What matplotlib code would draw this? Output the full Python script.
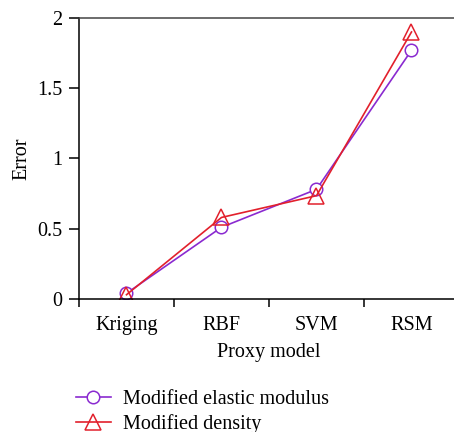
import numpy as np
import matplotlib.pyplot as plt

models = ["Kriging", "RBF", "SVM", "RSM"]
elastic_modulus = [0.04, 0.51, 0.78, 1.77]
density = [0.03, 0.58, 0.735, 1.90]

plt.rcParams["font.family"] = ["Liberation Serif", "DejaVu Serif"]
plt.rcParams["font.size"] = 14.5

purple = "#8a2ad0"
red = "#e2202c"

fig = plt.figure(figsize=(4.54, 4.32), dpi=100)
ax = fig.add_axes([0.174, 0.308, 0.837, 0.6505])

x = np.arange(len(models)) + 0.5
ax.plot(x, elastic_modulus, color=purple, lw=1.2, marker="o", ms=9,
        mfc="white", mec=purple, mew=1.1, label="Modified elastic modulus")
ax.plot(x, density, color=red, lw=1.2, marker="^", ms=11,
        mfc="none", mec=red, mew=1.1, label="Modified density")

ax.set_xlim(0, 4)
ax.set_ylim(0, 2)
ax.set_yticks([0, 0.5, 1, 1.5, 2])
ax.set_yticklabels(["0", "0.5", "1", "1.5", "2"])
ax.set_xticks([0, 1, 2, 3, 4])
ax.set_xticklabels([])
ax.set_xticks(x, minor=True)
ax.set_xticklabels(models, minor=True)
ax.tick_params(axis="x", which="minor", length=0, pad=12)
ax.tick_params(axis="x", which="major", direction="out", length=6, width=1.1)
ax.tick_params(axis="y", direction="out", length=7, width=1.1, pad=5)
ax.spines["right"].set_visible(False)
for s in ["left", "bottom", "top"]:
    ax.spines[s].set_linewidth(1.1)
ax.spines["top"].set_color("#444444")

ax.set_xlabel("Proxy model", labelpad=6)
ax.set_ylabel("Error", labelpad=4)

fig.legend(loc="upper left", bbox_to_anchor=(0.167, 0.098), frameon=False,
           handlelength=1.75, handletextpad=0.6, labelspacing=0.25,
           borderpad=0, borderaxespad=0)

fig.savefig("out.png", dpi=100)
